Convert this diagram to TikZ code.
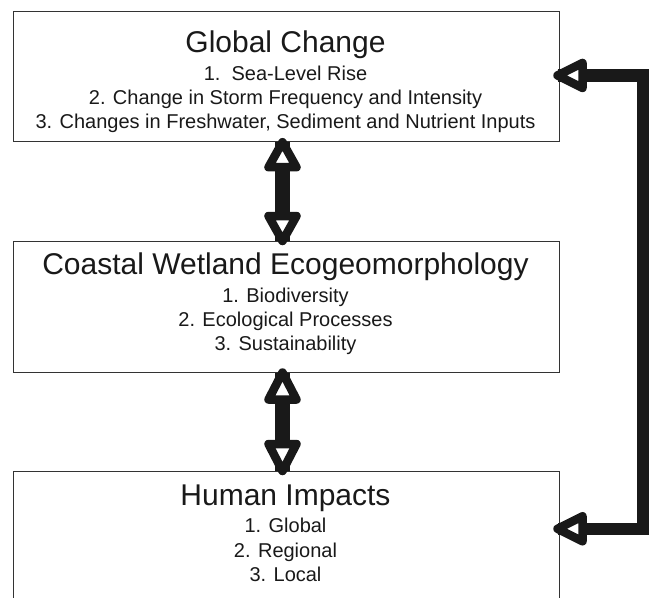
\documentclass[tikz,border=0pt]{standalone}
\usepackage{fontspec}
\setmainfont{Liberation Sans}
\usetikzlibrary{calc}
\tikzset{
  box/.style={draw=black!80, line width=1pt, fill=none, minimum width=546pt, minimum height=130.5pt, anchor=north west, inner sep=0pt},
  ttl/.style={anchor=base, inner sep=0pt, font=\fontsize{30}{36}\selectfont, text=black!90},
  itm/.style={anchor=base, inner sep=0pt, font=\fontsize{20}{24}\selectfont, text=black!90},
  shaft/.style={draw=black!90, line width=15pt},
  rshaft/.style={draw=black!90, line width=12.5pt, line join=miter},
  ahead/.style={draw=black!90, fill=white, line width=8.5pt, line join=round}
}
\begin{document}
\begin{tikzpicture}[x=1pt, y=-1pt]
\useasboundingbox (0,0) rectangle (649,598);
\begin{scope}
\clip (0,0) rectangle (649,598);
% boxes
\node[box] (g) at (12.5,10.7) {};
\node[box] (c) at (12.5,241) {};
\node[box] (h) at (12.5,471) {};
% texts
\node[ttl] (gt) at (285.5,52) {Global Change};
\node[itm] (g1) at (285.5,80) {1.\ \ Sea-Level Rise};
\node[itm] (g2) at (285.5,104) {2. Change in Storm Frequency and Intensity};
\node[itm] (g3) at (285.5,128) {3. Changes in Freshwater, Sediment and Nutrient Inputs};
\node[ttl] (ct) at (285.5,274) {Coastal Wetland Ecogeomorphology};
\node[itm] (c1) at (285.5,302) {1. Biodiversity};
\node[itm] (c2) at (285.5,326) {2. Ecological Processes};
\node[itm] (c3) at (285.5,350) {3. Sustainability};
\node[ttl] (ht) at (285.5,505) {Human Impacts};
\node[itm] (h1) at (285.5,532) {1. Global};
\node[itm] (h2) at (285.5,557) {2. Regional};
\node[itm] (h3) at (285.5,581) {3. Local};
% connector coordinates
\coordinate (a1t) at ($(g.south)+(-3.5,0)$);
\coordinate (a1b) at ($(c.north)+(-3.5,0)$);
\coordinate (a2t) at ($(c.south)+(-3.5,0)$);
\coordinate (a2b) at ($(h.north)+(-3.5,0)$);
\coordinate (rt) at ($(g.east)+(-2,-1)$);
\coordinate (rb) at ($(h.east)+(-2,-8)$);
\coordinate (rx) at (643,0);
% vertical double arrows
\draw[shaft] (a1t) -- (a1b);
\draw[ahead] (a1t) -- ++(14,25) -- ++(-28,0) -- cycle;
\draw[ahead] (a1b) -- ++(14,-25) -- ++(-28,0) -- cycle;
\draw[shaft] (a2t) -- (a2b);
\draw[ahead] (a2t) -- ++(14,27) -- ++(-28,0) -- cycle;
\draw[ahead] (a2b) -- ++(14,-27) -- ++(-28,0) -- cycle;
% right feedback connector
\draw[rshaft] (rt) -- (rt -| rx) -- (rb -| rx) -- (rb);
\draw[ahead] (rt) -- ++(25,-12.5) -- ++(0,25) -- cycle;
\draw[ahead] (rb) -- ++(25,-12.5) -- ++(0,25) -- cycle;
\end{scope}
\end{tikzpicture}
\end{document}
